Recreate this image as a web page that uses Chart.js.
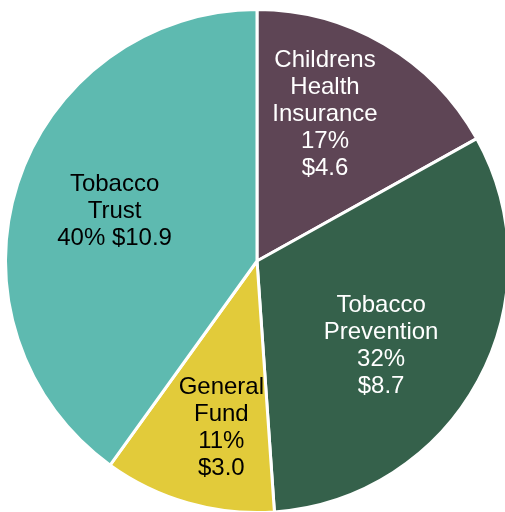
<!DOCTYPE html>
<html>
<head>
<meta charset="utf-8">
<script src="https://cdn.jsdelivr.net/npm/chart.js@4/dist/chart.umd.min.js"></script>
<style>
  html, body { margin: 0; padding: 0; background: #fff; overflow: hidden; }
  #wrap { position: absolute; left: 4px; top: 8px; width: 506px; height: 506px; }
</style>
</head>
<body>
<div id="wrap"><canvas id="pieChart"></canvas></div>
<script>
// Chart data
const categories = ['Childrens Health Insurance', 'Tobacco Prevention', 'General Fund', 'Tobacco Trust'];
const amounts = [4.6, 8.7, 3.0, 10.9];
const percents = ['17%', '32%', '11%', '40%'];
const labelLines = [
  ['Childrens', 'Health', 'Insurance', '17%', '$4.6'],
  ['Tobacco', 'Prevention', '32%', '$8.7'],
  ['General', 'Fund', '11%', '$3.0'],
  ['Tobacco', 'Trust', '40% $10.9'],
];
const sliceColors = ['#5E4555', '#35614B', '#E2CB3A', '#5EBAB0'];
const textColors = ['#ffffff', '#ffffff', '#000000', '#000000'];
// small nudges so labels sit where the original places them
const labelNudge = [[-11, -12], [-13, 11], [7, 17], [6, -2]];

// Draws the multi-line labels inside each slice
const sliceLabels = {
  id: 'sliceLabels',
  afterDatasetsDraw(chart) {
    const ctx = chart.ctx;
    const meta = chart.getDatasetMeta(0);
    ctx.save();
    ctx.font = '24px "Liberation Sans", Arial, sans-serif';
    ctx.textAlign = 'center';
    ctx.textBaseline = 'middle';
    meta.data.forEach(function (arc, i) {
      const mid = (arc.startAngle + arc.endAngle) / 2;
      const r = arc.outerRadius * 0.62;
      const x = arc.x + Math.cos(mid) * r + labelNudge[i][0];
      const y = arc.y + Math.sin(mid) * r + labelNudge[i][1];
      const lines = labelLines[i];
      const lh = 27;
      ctx.fillStyle = textColors[i];
      lines.forEach(function (line, j) {
        ctx.fillText(line, x, y + (j - (lines.length - 1) / 2) * lh);
      });
    });
    ctx.restore();
  },
};

document.addEventListener('DOMContentLoaded', function () {
  const ctx = document.getElementById('pieChart').getContext('2d');
  new Chart(ctx, {
    type: 'pie',
    data: {
      labels: categories,
      datasets: [
        {
          data: amounts,
          backgroundColor: sliceColors,
          borderColor: '#ffffff',
          borderWidth: 3,
        },
      ],
    },
    options: {
      responsive: true,
      maintainAspectRatio: false,
      animation: false,
      layout: { padding: 0 },
      plugins: {
        legend: { display: false },
        tooltip: { enabled: false },
      },
    },
    plugins: [sliceLabels],
  });
});
</script>
</body>
</html>
